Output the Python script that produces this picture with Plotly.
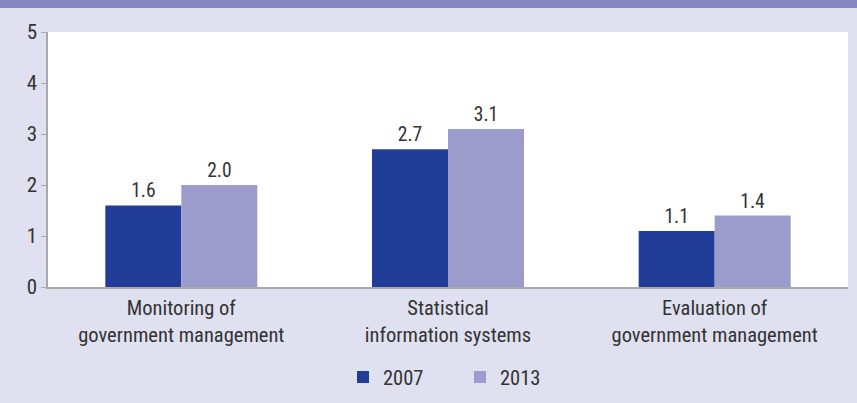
import plotly.graph_objects as go

categories = ["Monitoring of<br>government management",
              "Statistical<br>information systems",
              "Evaluation of<br>government management"]
values_2007 = [1.6, 2.7, 1.1]
values_2013 = [2.0, 3.1, 1.4]
y_ticks = [0, 1, 2, 3, 4, 5]

FONT = "Roboto Condensed, Liberation Sans Narrow, Roboto, sans-serif"
TXT = "#333333"

fig = go.Figure()
fig.add_trace(go.Bar(
    name="2007", x=categories, y=values_2007,
    marker=dict(color="#223d97", line=dict(width=0)),
    text=[f"{v:.1f}" for v in values_2007], textposition="outside",
    textfont=dict(size=19.5, color=TXT, family=FONT), cliponaxis=False,
))
fig.add_trace(go.Bar(
    name="2013", x=categories, y=values_2013,
    marker=dict(color="#9b9bcc", line=dict(width=0)),
    text=[f"{v:.1f}" for v in values_2013], textposition="outside",
    textfont=dict(size=19.5, color=TXT, family=FONT), cliponaxis=False,
))

# top header band
fig.add_shape(type="rect", xref="paper", yref="paper",
              x0=-0.07, x1=1.02, y0=1.094, y1=1.14,
              fillcolor="#8787c3", line=dict(width=0), layer="below")

fig.update_layout(
    width=857, height=403,
    margin=dict(l=48, r=9, t=32, b=116),
    paper_bgcolor="#dfe0f0", plot_bgcolor="#ffffff",
    barmode="group", bargap=0.43, bargroupgap=0,
    font=dict(family=FONT, color=TXT, size=19),
    showlegend=True,
    legend=dict(orientation="h", x=0.515, xanchor="center",
                yref="container", y=0.064, yanchor="middle",
                font=dict(size=20.5, family=FONT, color=TXT),
                itemwidth=30, entrywidth=72, traceorder="normal",
                bgcolor="rgba(0,0,0,0)"),
    xaxis=dict(showline=True, linecolor="#aaaaaa", linewidth=1.5, ticks="",
               tickfont=dict(size=20.5, family=FONT, color=TXT), showgrid=False,
               ticklabelstandoff=2),
    yaxis=dict(range=[0, 5], tickvals=y_ticks, showline=True, linecolor="#aaaaaa",
               linewidth=1.5, ticks="outside", ticklen=5, tickcolor="#aaaaaa",
               tickfont=dict(size=21, family=FONT, color=TXT), showgrid=False,
               zeroline=False, ticklabelstandoff=0),
)

fig.write_html("out.html")
